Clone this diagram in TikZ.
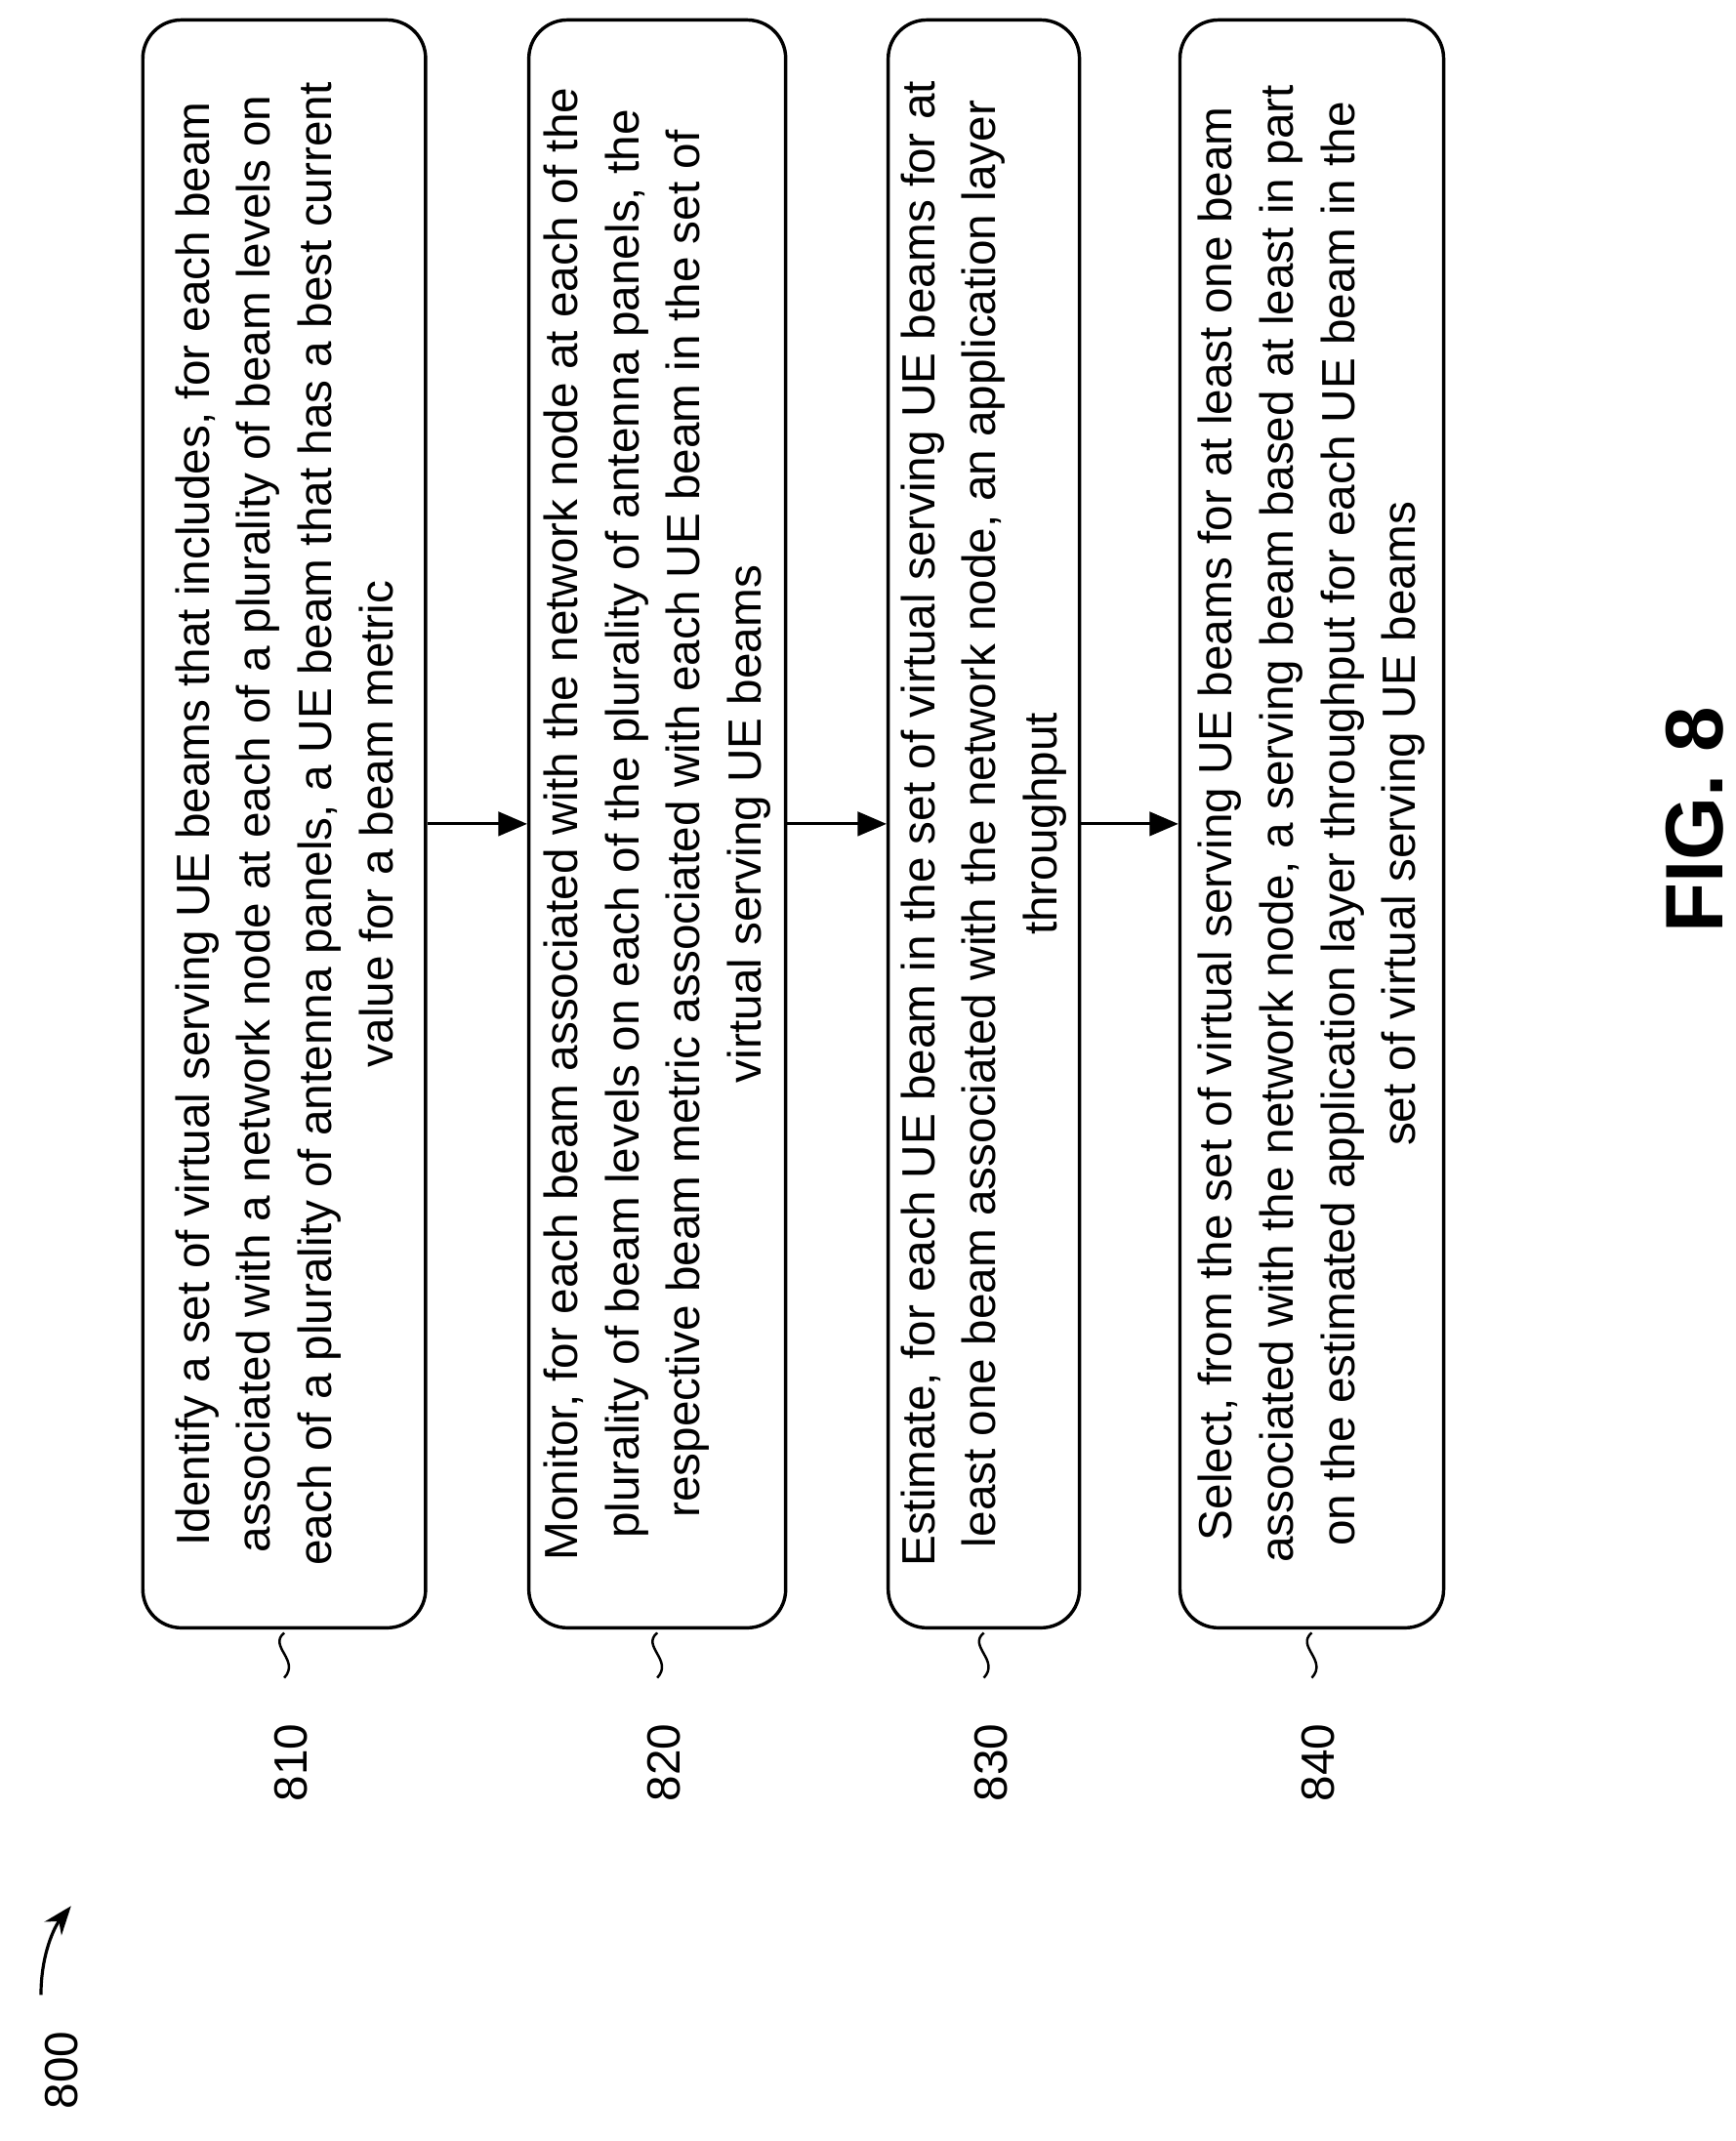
\documentclass[tikz,border=0pt]{standalone}
\usepackage{fontspec}
\setmainfont{Liberation Sans}
\usetikzlibrary{arrows.meta}
\tikzset{
  stepbox/.style={draw, line width=1.4pt, rounded corners=16pt, rotate=90,
    minimum width=23.54cm, align=center, inner sep=0pt,
    font=\fontsize{19.4}{25.5}\selectfont},
  refnum/.style={rotate=90, font=\fontsize{19.4}{25.5}\selectfont},
  flow/.style={-{Triangle[length=12pt,width=10pt]}, line width=1.2pt}
}
\begin{document}
\begin{tikzpicture}[x=0.02cm, y=-0.02cm]
\useasboundingbox (0,0) rectangle (1270,1567);
% step boxes
\node[stepbox, minimum height=4.14cm] (s810) at (208,603) {Identify a set of virtual serving UE beams that includes, for each beam\\associated with a network node at each of a plurality of beam levels on\\each of a plurality of antenna panels, a UE beam that has a best current\\value for a beam metric};
\node[stepbox, minimum height=3.76cm] (s820) at (481,603) {Monitor, for each beam associated with the network node at each of the\\plurality of beam levels on each of the plurality of antenna panels, the\\respective beam metric associated with each UE beam in the set of\\virtual serving UE beams};
\node[stepbox, minimum height=2.8cm] (s830) at (720,603) {Estimate, for each UE beam in the set of virtual serving UE beams for at\\least one beam associated with the network node, an application layer\\throughput};
\node[stepbox, minimum height=3.86cm] (s840) at (960,603) {Select, from the set of virtual serving UE beams for at least one beam\\associated with the network node, a serving beam based at least in part\\on the estimated application layer throughput for each UE beam in the\\set of virtual serving UE beams};
% arrows between steps
\draw[flow] (s810.south) -- (s820.north);
\draw[flow] (s820.south) -- (s830.north);
\draw[flow] (s830.south) -- (s840.north);
% reference numbers
\foreach \n/\x in {810/208, 820/481, 830/720, 840/960} {
  \node[refnum] (l\n) at (\x+5,1290) {\n};
  \draw[line width=1pt] (\x,1195) .. controls (\x-12,1205) and (\x+12,1215) .. (\x,1228);
}
\node[refnum] (l800) at (45,1515) {800};
\coordinate (a800) at (52,1395);
\draw[-{Stealth[length=12pt]}, line width=1.3pt] (30,1460) .. controls (30,1430) and (40,1410) .. (a800);
\node[rotate=90, font=\bfseries\fontsize{34}{40}\selectfont] (fig) at (1240,600) {FIG. 8};
\end{tikzpicture}
\end{document}
